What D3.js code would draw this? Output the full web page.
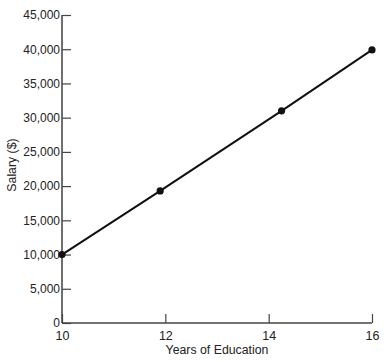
<!DOCTYPE html>
<html><head><meta charset="utf-8">
<script src="https://cdn.jsdelivr.net/npm/d3@7"></script>
<style>body{margin:0;background:#fff}svg{display:block}text{font-family:"Liberation Sans",Arial,Helvetica,sans-serif;fill:#222}</style>
</head><body><svg id="c" width="389" height="362"></svg>
<script>
const years = [10, 11.9, 14.25, 16];
const salary = [10000, 19300, 31000, 39900];
const xTicks = [10, 12, 14, 16];
const yTicks = [0, 5000, 10000, 15000, 20000, 25000, 30000, 35000, 40000, 45000];

const svg = d3.select("#c");
const x = d3.scaleLinear().domain([10, 16]).range([62, 372]);
const y = d3.scaleLinear().domain([0, 45000]).range([323, 15]);

const ya = svg.append("g").attr("transform", "translate(62,0)")
  .call(d3.axisRight(y).tickValues(yTicks).tickSize(9).tickFormat(d3.format(",")));
ya.select(".domain").attr("stroke", "#222").attr("stroke-width", 1.3).attr("d", "M0,15V323");
ya.selectAll(".tick line").attr("stroke", "#444").attr("stroke-width", 1.2);
ya.selectAll(".tick text").attr("x", -2).attr("text-anchor", "end").attr("font-size", 12).attr("fill", "#222");

const xa = svg.append("g").attr("transform", "translate(0,323)")
  .call(d3.axisTop(x).tickValues(xTicks).tickSize(9).tickFormat(d3.format("d")));
xa.select(".domain").attr("stroke", "#444").attr("stroke-width", 1.3).attr("d", "M62,0H372");
xa.selectAll(".tick line").attr("stroke", "#444").attr("stroke-width", 1.2);
xa.selectAll(".tick text").attr("y", 17).attr("dy", "0").attr("font-size", 12.5).attr("fill", "#222");

svg.append("text").attr("x", 217).attr("y", 354).attr("text-anchor", "middle").attr("font-size", 12.3).text("Years of Education");
svg.append("text").attr("transform", "translate(16,165) rotate(-90)").attr("text-anchor", "middle").attr("font-size", 12.3).text("Salary ($)");

const pts = years.map((d, i) => [d, salary[i]]);
svg.append("path").datum(pts)
  .attr("d", d3.line().x(d => x(d[0])).y(d => y(d[1])))
  .attr("fill", "none").attr("stroke", "#111").attr("stroke-width", 2);
svg.selectAll("circle.p").data(pts).enter().append("circle")
  .attr("cx", d => x(d[0])).attr("cy", d => y(d[1])).attr("r", 3.6).attr("fill", "#111");
</script></body></html>
